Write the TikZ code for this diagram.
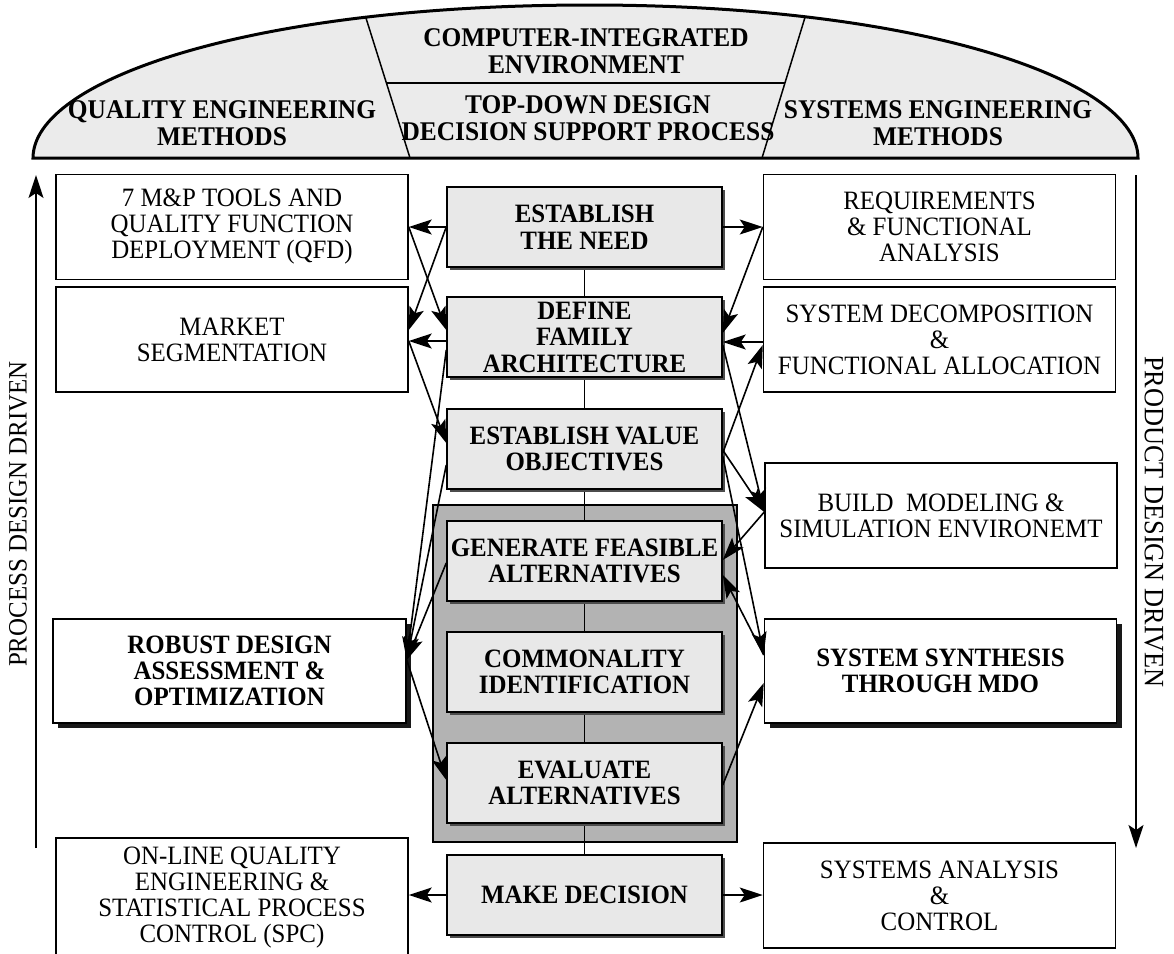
\documentclass[tikz,border=0pt]{standalone}
\usepackage{fontspec}
\setmainfont{Liberation Serif}[FakeStretch=0.94]
\usetikzlibrary{arrows.meta,shadows}
\definecolor{domefill}{HTML}{EBEBEB}
\definecolor{stepfill}{HTML}{E8E8E8}
\definecolor{groupfill}{HTML}{B3B3B3}
\pgfdeclarelayer{groupback}
\pgfdeclarelayer{spine}
\pgfsetlayers{groupback,spine,main}
\begin{document}
\begin{tikzpicture}[x=1pt,y=-1pt,
  txt/.style={font=\fontsize{26.5}{26}\selectfont, align=center, inner sep=0pt},
  boldtxt/.style={txt, font=\fontsize{26.5}{26.5}\selectfont\bfseries},
  headtxt/.style={txt, font=\fontsize{27}{27}\selectfont\bfseries},
  sidebox/.style={txt, draw, line width=1.5pt, fill=white, minimum width=352pt, minimum height=105pt},
  keybox/.style={sidebox, font=\fontsize{26.5}{26}\selectfont\bfseries, minimum height=104pt,
    drop shadow={shadow xshift=5pt, shadow yshift=-5pt, fill=black!90, opacity=1}},
  stepbox/.style={boldtxt, draw, line width=1.5pt, fill=stepfill, minimum width=275pt, minimum height=80pt,
    drop shadow={shadow xshift=3pt, shadow yshift=-3pt, fill=black!70, opacity=1}},
  arr/.style={-{Stealth[length=23pt,width=15pt,inset=5pt]}, line width=1.6pt},
]
\useasboundingbox (0,0) rectangle (1174,953);

% ---- header dome ----
\fill[domefill] (33,158) .. controls (33,80) and (250,5) .. (590,5) .. controls (920,5) and (1138,80) .. (1138,158) -- cycle;
\begin{scope}
  \clip (33,158) .. controls (33,80) and (250,5) .. (590,5) .. controls (920,5) and (1138,80) .. (1138,158) -- cycle;
  \draw[line width=1.5pt] (360,-1) -- (410,158);
  \draw[line width=1.5pt] (810,1) -- (762,158);
\end{scope}
\draw[line width=1.5pt] (386.4,83) -- (784.9,83);
\draw[line width=3pt] (33,158) .. controls (33,80) and (250,5) .. (590,5) .. controls (920,5) and (1138,80) .. (1138,158) -- cycle;

\node[headtxt] (cie) at (586,51) {COMPUTER-INTEGRATED\\ENVIRONMENT};
\node[headtxt] (tdd) at (588,118) {TOP-DOWN DESIGN\\DECISION SUPPORT PROCESS};
\node[headtxt] (qem) at (222,123) {QUALITY ENGINEERING\\METHODS};
\node[headtxt] (sem) at (938,123) {SYSTEMS ENGINEERING\\METHODS};

% ---- side flow arrows ----
\coordinate (pbot) at (36,848);
\coordinate (ptop) at (36,175);
\draw[arr] (pbot) -- (ptop);
\node[txt, rotate=90] (pdd) at (18,514) {PROCESS DESIGN DRIVEN};
\coordinate (qtop) at (1136,175);
\coordinate (qbot) at (1136,848);
\draw[arr] (qtop) -- (qbot);
\node[txt, font=\fontsize{28}{28}\selectfont, rotate=-90] (prd) at (1154,522) {PRODUCT DESIGN DRIVEN};

% ---- quality engineering column ----
\node[sidebox] (qfd) at (232,227) {7 M\&P TOOLS AND\\QUALITY FUNCTION\\DEPLOYMENT (QFD)};
\node[sidebox] (mkt) at (232,339.5) {MARKET\\SEGMENTATION};
\node[keybox, minimum width=353pt] (rob) at (229.5,671) {ROBUST DESIGN\\ASSESSMENT \&\\OPTIMIZATION};
\node[sidebox, minimum height=120pt, anchor=north] (onl) at (232,837) {ON-LINE QUALITY\\ENGINEERING \&\\STATISTICAL PROCESS\\CONTROL (SPC)};

% ---- systems engineering column ----
\node[sidebox] (req) at (939.5,227) {REQUIREMENTS\\\& FUNCTIONAL\\ANALYSIS};
\node[sidebox] (sdc) at (939.5,339.5) {SYSTEM DECOMPOSITION\\\&\\FUNCTIONAL ALLOCATION};
\node[sidebox] (bld) at (941,515.5) {BUILD\ \ MODELING \&\\SIMULATION ENVIRONEMT};
\node[keybox] (syn) at (940.5,671) {SYSTEM SYNTHESIS\\THROUGH MDO};
\node[sidebox] (san) at (939.5,895.5) {SYSTEMS ANALYSIS\\\&\\CONTROL};

% ---- decision support process ----
\node[stepbox] (etn) at (584.5,227) {ESTABLISH\\THE NEED};
\node[stepbox] (dfa) at (584.5,337) {DEFINE\\FAMILY\\ARCHITECTURE};
\node[stepbox] (evo) at (584.5,449) {ESTABLISH VALUE\\OBJECTIVES};
\node[stepbox] (gfa) at (584.5,561) {GENERATE FEASIBLE\\ALTERNATIVES};
\node[stepbox] (com) at (584.5,672) {COMMONALITY\\IDENTIFICATION};
\node[stepbox] (eva) at (584.5,783) {EVALUATE\\ALTERNATIVES};
\node[stepbox] (mkd) at (584.5,895) {MAKE DECISION};

\begin{pgfonlayer}{groupback}
  \node[draw, line width=1.5pt, fill=groupfill, minimum width=304pt, minimum height=337pt, inner sep=0pt] (grp) at (585,673.5) {};
\end{pgfonlayer}
\begin{pgfonlayer}{spine}
  \draw[line width=1.4pt] (etn.center) -- (mkd.center);
\end{pgfonlayer}

% ---- links to the quality engineering methods ----
\draw[arr] (etn.west) -- (qfd.east);
\draw[arr] (etn.west) -- (mkt.east |- 0,330);
\draw[arr] (qfd.east) -- (dfa.west |- 0,330);
\draw[arr] (dfa.west |- 0,341) -- (mkt.east |- 0,341);
\draw[arr] (mkt.east |- 0,341) -- (evo.west |- 0,443);
\draw[arr] (dfa.west |- 0,350) -- (rob.east |- 0,660);
\draw[arr] (evo.west |- 0,465) -- (rob.east |- 0,660);
\draw[arr] (gfa.west |- 0,563) -- (rob.east |- 0,660);
\draw[arr] (rob.east |- 0,660) -- (eva.west |- 0,780);
\draw[arr] (mkd.west) -- (onl.east |- 0,895);

% ---- links to the systems engineering methods ----
\draw[arr] (etn.east) -- (req.west);
\draw[arr] (req.west) -- (dfa.east |- 0,333);
\draw[arr] (sdc.west |- 0,342) -- (dfa.east |- 0,342);
\draw[arr] (evo.east |- 0,453) -- (sdc.west |- 0,345);
\draw[arr] (dfa.east |- 0,345) -- (bld.west |- 0,512);
\draw[arr] (evo.east |- 0,450) -- (bld.west |- 0,512);
\draw[arr] (bld.west |- 0,512) -- (gfa.east |- 0,560);
\draw[arr] (evo.east |- 0,456) -- (syn.west |- 0,655);
\draw[arr] (syn.west |- 0,655) -- (gfa.east |- 0,575);
\draw[arr] (eva.east |- 0,785) -- (syn.west |- 0,683);
\draw[arr] (mkd.east) -- (san.west |- 0,895);
\end{tikzpicture}
\end{document}
